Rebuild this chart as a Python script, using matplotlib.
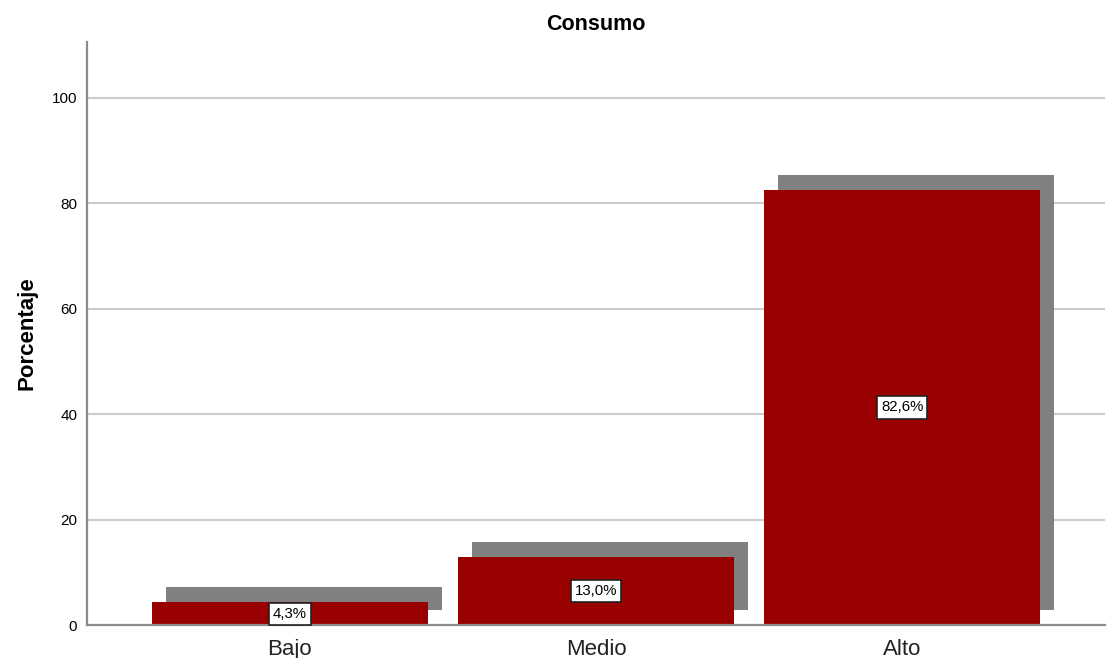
import matplotlib
matplotlib.use("Agg")
import matplotlib.pyplot as plt
import numpy as np

plt.rcParams['font.family'] = ['Liberation Sans', 'DejaVu Sans']

# data
categorias = ['Bajo', 'Medio', 'Alto']
porcentajes = [4.3, 13.0, 82.6]
etiquetas = ['4,3%', '13,0%', '82,6%']
yticks = [0, 20, 40, 60, 80, 100]

ROJO = '#990000'
SOMBRA = '#808080'

fig = plt.figure(figsize=(11.07, 6.58), dpi=100)
ax = fig.add_axes([0.0786, 0.050, 0.9196, 0.886])

x = np.arange(len(categorias))
ancho = 0.9
dx, dy = 0.046, 2.85

# shadow bars behind, then the real bars
ax.bar(x + dx, porcentajes, width=ancho, bottom=dy, color=SOMBRA, zorder=2)
ax.bar(x, porcentajes, width=ancho, color=ROJO, zorder=3)

for xi, v, txt in zip(x, porcentajes, etiquetas):
    ax.text(xi, v / 2, txt, ha='center', va='center', fontsize=10.8, zorder=5,
            bbox=dict(boxstyle='square,pad=0.28', fc='white', ec='#222222', lw=1.2))

ax.set_xlim(-0.663, 2.663)
ax.set_ylim(0, 110.6)
ax.set_xticks(x)
ax.set_xticklabels(categorias, fontsize=16, color='#222222')
ax.set_yticks(yticks)
ax.set_yticklabels([str(t) for t in yticks], fontsize=11)
ax.tick_params(axis='both', length=0)
ax.tick_params(axis='y', pad=7)
ax.tick_params(axis='x', pad=10)

ax.yaxis.grid(True, color='#cccccc', lw=1.5, zorder=0)
ax.set_axisbelow(True)
for s in ['top', 'right']:
    ax.spines[s].set_visible(False)
for s in ['left', 'bottom']:
    ax.spines[s].set_color('#8c8c8c')
    ax.spines[s].set_linewidth(1.6)
    ax.spines[s].set_zorder(4)

ax.set_ylabel('Porcentaje', fontsize=16, fontweight='bold', labelpad=10)
ax.set_title('Consumo', fontsize=15.5, fontweight='bold', pad=9)

fig.savefig('out.png', dpi=100)
